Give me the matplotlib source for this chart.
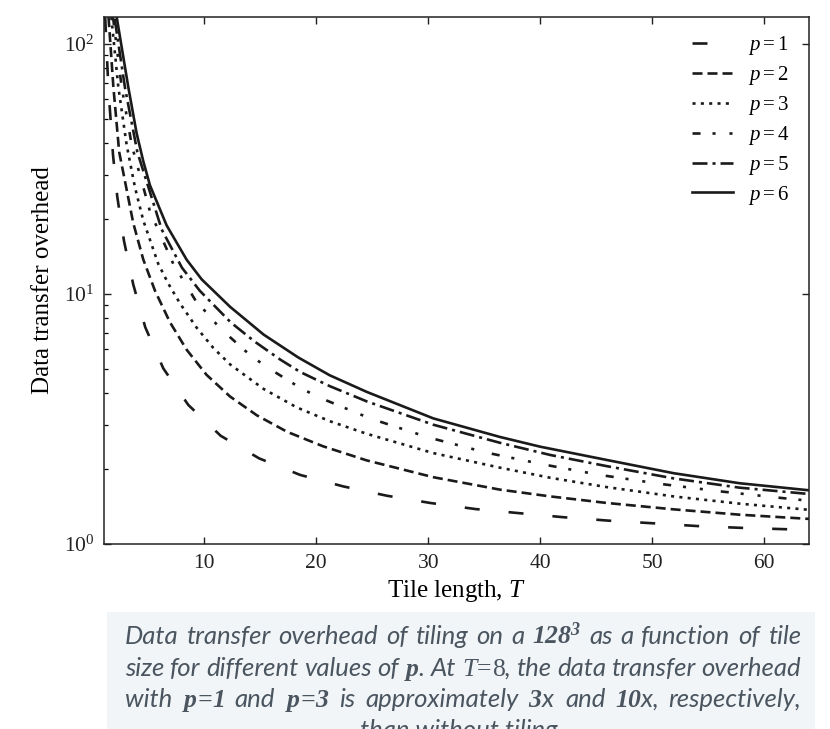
import matplotlib
matplotlib.use("Agg")
import matplotlib.pyplot as plt
from matplotlib.ticker import NullLocator, LogLocator
from matplotlib.patches import Rectangle

plt.rcParams['font.family'] = ['Liberation Serif', 'DejaVu Serif']
plt.rcParams['mathtext.fontset'] = 'custom'
plt.rcParams['mathtext.rm'] = 'Liberation Serif'
plt.rcParams['mathtext.it'] = 'Liberation Serif:italic'
plt.rcParams['mathtext.bf'] = 'Liberation Serif:italic:bold'
plt.rcParams['lines.scale_dashes'] = False

# ---- data ----
p1_T = [1.15, 1.43, 1.85, 2.23, 2.83, 3.66, 4.73, 6.34, 8.57, 11.46, 14.9, 18.55, 22.4, 26.3,
        30.15, 34.2, 38.0, 42.05, 46.1, 50.1, 54.0, 58.0, 61.9, 64.0]
p1_v = [128, 67.5, 36, 24.5, 16.3, 10.9, 7.36, 5.04, 3.60, 2.71, 2.20, 1.89, 1.70, 1.56,
        1.46, 1.38, 1.33, 1.28, 1.24, 1.21, 1.18, 1.16, 1.146, 1.14]

p2_T = [1.45, 1.88, 2.4, 3.66, 4.55, 5.6, 6.94, 8.43, 10.2, 12.3, 14.7, 17.4, 20.6, 24.5,
        30.45, 36.4, 40.9, 45.9, 51.9, 57.8, 64.0]
p2_v = [128, 67.5, 37, 19.2, 13.75, 10.3, 7.70, 5.98, 4.75, 3.89, 3.27, 2.81, 2.46, 2.16,
        1.85, 1.65, 1.55, 1.46, 1.376, 1.31, 1.26]

p3_T = [1.7, 2.32, 3.07, 3.81, 4.55, 5.89, 6.79, 7.83, 9.32, 10.8, 12.3, 15.3, 18.25, 21.2,
        24.5, 30.45, 36.4, 40.9, 45.9, 51.9, 57.8, 64.0]
p3_v = [128, 67.5, 39.4, 26.7, 19.7, 13.2, 11.0, 9.17, 7.33, 6.09, 5.23, 4.17, 3.52, 3.10,
        2.76, 2.31, 2.02, 1.84, 1.69, 1.55, 1.45, 1.37]

p4_T = [1.85, 2.62, 3.52, 5.15, 7.23, 9.17, 11.4, 13.95, 15.4, 18.4, 20.0, 24.8, 30.0,
        35.2, 40.3, 45.3, 50.7, 56.0, 61.4, 64.0]
p4_v = [128, 67.4, 39.4, 21.4, 13.2, 9.5, 7.3, 5.77, 5.16, 4.26, 3.9, 3.18, 2.67,
        2.32, 2.08, 1.89, 1.74, 1.625, 1.53, 1.49]

p5_T = [2.0, 2.92, 4.02, 6.2, 8.0, 9.6, 12.36, 14.5, 16.8, 18.55, 21.2, 24.5, 30.45,
        36.4, 40.9, 45.9, 51.9, 57.8, 64.0]
p5_v = [126, 66.8, 37, 18.1, 12.75, 10.3, 7.7, 6.45, 5.46, 4.88, 4.28, 3.72, 3.0,
        2.54, 2.27, 2.05, 1.83, 1.68, 1.585]

p6_T = [2.18, 3.21, 3.96, 4.55, 5.15, 6.64, 8.43, 9.77, 12.3, 15.3, 18.4, 21.2, 24.5,
        30.45, 36.4, 40.0, 45.9, 51.9, 57.8, 64.0]
p6_v = [128, 67.4, 43.9, 34.0, 27.2, 18.8, 13.7, 11.44, 8.89, 6.88, 5.57, 4.73, 4.06,
        3.18, 2.68, 2.45, 2.17, 1.92, 1.75, 1.64]

labels = ['$p=1$', '$p=2$', '$p=3$', '$p=4$', '$p=5$', '$p=6$']
x_ticks = [10, 20, 30, 40, 50, 60]

series = [(p1_T, p1_v), (p2_T, p2_v), (p3_T, p3_v), (p4_T, p4_v), (p5_T, p5_v), (p6_T, p6_v)]
styles = [
    (0, (10.8, 20.9)),
    (0, (7.2, 3.6)),
    (0, (2.2, 3.8)),
    (0, (5.8, 8.6, 2.2, 10.0, 2.2, 13.0)),
    (0, (10.8, 3.6, 2.2, 3.6)),
    '-',
]

W, H = 830, 729
fig = plt.figure(figsize=(W / 100, H / 100), dpi=100)
ax = fig.add_axes([104 / W, 1 - 544 / H, 705 / W, 527 / H])

ink = '#1a1a1a'
for (T, v), ls, lab in zip(series, styles, labels):
    ax.plot(T, v, color=ink, lw=1.9, ls=ls, label=lab, dash_capstyle='butt',
            solid_joinstyle='round')

ax.set_yscale('log')
ax.set_xlim(1.045, 64)
ax.set_ylim(1, 128.2)
ax.set_xticks(x_ticks)
ax.xaxis.set_minor_locator(NullLocator())
ax.yaxis.set_major_locator(LogLocator(base=10, numticks=5))

for s in ax.spines.values():
    s.set_linewidth(1.1)
    s.set_color('#222222')

ax.tick_params(which='major', direction='in', length=5, width=1.0, top=True, right=True,
               labelsize=15.5, pad=7, colors='#222222')
ax.tick_params(which='minor', direction='in', length=3, width=0.9, left=True, right=False,
               top=False, bottom=False)

ax.set_xlabel('Tile length, $T$', fontsize=18, labelpad=4)
ax.set_ylabel('Data transfer overhead', fontsize=18, labelpad=7)

leg = ax.legend(loc='upper right', bbox_to_anchor=(0.973, 0.967), frameon=False,
                fontsize=15, handlelength=1.95, handletextpad=0.75, labelspacing=0.33,
                borderpad=0, borderaxespad=0)

# ---- caption box ----
fig.patches.append(Rectangle((107 / W, 0), (815 - 107) / W, (H - 612) / H,
                             transform=fig.transFigure, facecolor='#f1f5f7',
                             edgecolor='none', zorder=0))

cap_color = '#4a5560'
cap_kw = dict(family=['Lato', 'DejaVu Sans'], style='italic', weight='normal',
              fontsize=18.5, color=cap_color)
lines = [
    ["Data", "transfer", "overhead", "of", "tiling", "on", "a", r"$\mathbf{128}^{\mathbf{3}}$",
     "as", "a", "function", "of", "tile"],
    ["size", "for", "different", "values", "of", r"$\mathbf{p}$.", "At", r"$\mathit{T}\!=\!\mathit{8}$,",
     "the", "data", "transfer", "overhead"],
    ["with", r"$\mathbf{p\!=\!1}$", "and", r"$\mathbf{p\!=\!3}$", "is", "approximately",
     r"$\mathbf{3}$x", "and", r"$\mathbf{10}$x,", "respectively,"],
]
baselines = [644, 676, 707]
x0, x1 = 125, 801
renderer = fig.canvas.get_renderer()
for words, yb in zip(lines, baselines):
    texts = [fig.text(0, 1 - yb / H, w, va='baseline', ha='left', **cap_kw) for w in words]
    widths = [t.get_window_extent(renderer).width for t in texts]
    gap = (x1 - x0 - sum(widths)) / (len(words) - 1)
    x = x0
    for t, w in zip(texts, widths):
        t.set_x(x / W)
        x += w + gap
fig.text(462 / W, 1 - 738 / H, "than without tiling.", va='baseline', ha='center', **cap_kw)

fig.savefig('out.png', dpi=100)
